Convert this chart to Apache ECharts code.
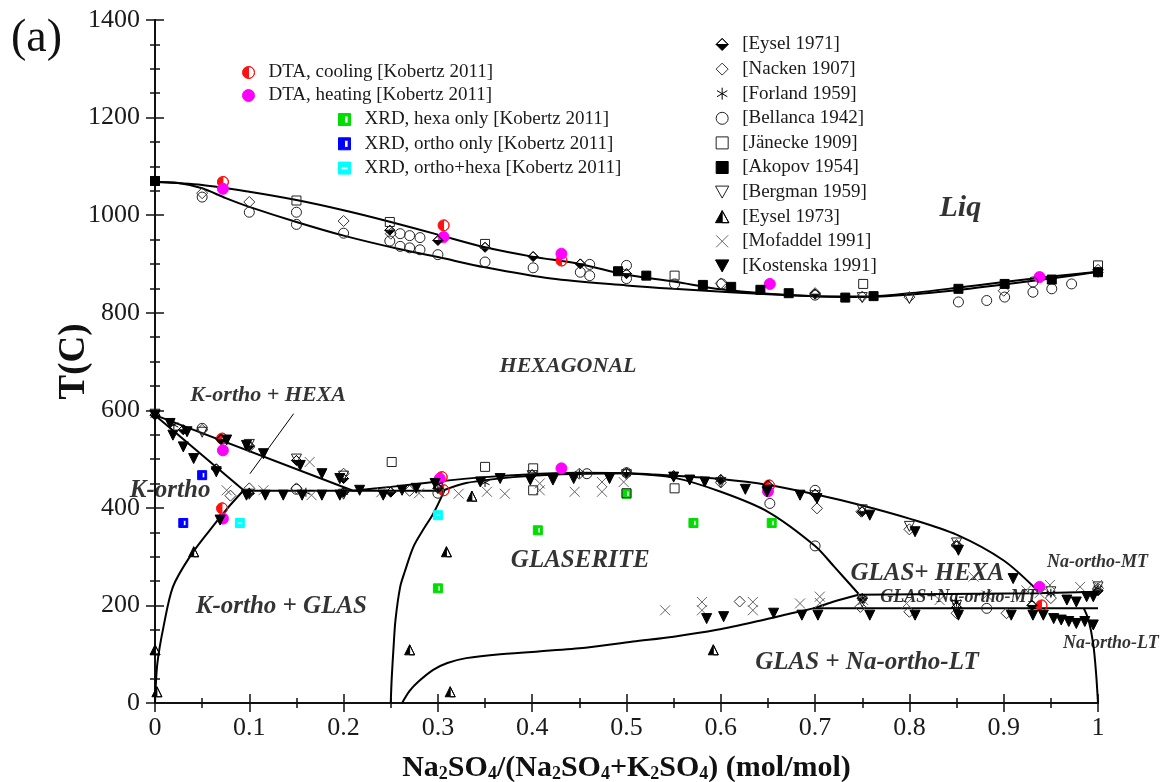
<!DOCTYPE html>
<html><head><meta charset="utf-8">
<script src="https://cdn.jsdelivr.net/npm/echarts@6/dist/echarts.min.js"></script>
<style>html,body{margin:0;padding:0;background:#fff}#c{width:1176px;height:782px}</style>
</head><body><div id="c"></div>
<script>
// ---------- axis ticks ----------
const xTicks = [0, 0.1, 0.2, 0.3, 0.4, 0.5, 0.6, 0.7, 0.8, 0.9, 1];
const yTicks = [0, 200, 400, 600, 800, 1000, 1200, 1400];

// ---------- phase boundary lines ----------
const liqUpper = [[0,1068],[0.05,1062],[0.1,1048],[0.15,1031],[0.2,1010],[0.25,986],[0.3,960],[0.35,934],[0.4,915],[0.45,900],[0.5,878],[0.55,864],[0.6,848],[0.65,839],[0.7,834],[0.75,833],[0.8,840],[0.85,851],[0.9,863],[0.95,874],[1,884]];
const liqLower = [[0,1068],[0.025,1066],[0.05,1055],[0.075,1035],[0.1,1017],[0.15,986],[0.2,958],[0.26,930],[0.3,914],[0.35,893],[0.42,870],[0.5,856],[0.55,849],[0.61,842],[0.65,838],[0.7,834],[0.75,832],[0.8,837],[0.85,846],[0.9,858],[0.95,870],[1,884]];
const kHexaUpper = [[0,590],[0.21,435]];
const kOrthoSolvus = [[0,590],[0.094,436]];
const eutectoid = [[0.094,435],[0.306,435]];
const glasTop = [[0.21,435],[0.25,443],[0.3,454],[0.35,463],[0.4,469],[0.45,472],[0.5,471],[0.55,466],[0.6,459],[0.65,447],[0.7,428],[0.75,405],[0.8,378],[0.85,345],[0.9,292],[0.935,232]];
const glasLeftUpper = [[0.306,436],[0.33,451],[0.38,463],[0.43,469],[0.5,471]];
const glasInner = [[0.5,471],[0.55,462],[0.6,433],[0.65,392],[0.7,322],[0.72,280],[0.746,224]];
const glasLeft = [[0.307,436],[0.295,388],[0.284,354],[0.274,320],[0.265,270],[0.26,238],[0.255,170],[0.253,115],[0.251,50],[0.25,0]];
const glasLower = [[0.262,0],[0.27,25],[0.28,45],[0.295,68],[0.31,82],[0.33,92],[0.366,100],[0.45,112],[0.507,126],[0.55,136],[0.596,150],[0.64,168],[0.666,180],[0.698,194],[0.72,208],[0.746,222]];
const kOrthoLow = [[0.094,436],[0.075,395],[0.058,354],[0.037,300],[0.019,238],[0.009,156],[0.0025,81],[0,0]];
const mtLine = [[0.746,222],[0.935,225],[1,228]];
const ltLine = [[0.698,194],[1,194]];
const naLtSolvus = [[0.985,194],[0.99,170],[0.995,120],[0.998,60],[1,0]];
const pointerLine = [[0.147,593],[0.1007,470]];

// ---------- experimental data ----------
const dtaCooling = [[0.072,1068],[0.306,979],[0.431,907],[0.071,542],[0.071,399],[0.304,463],[0.306,436],[0.651,446],[0.94,200]];
const dtaHeating = [[0.072,1054],[0.306,955],[0.431,921],[0.652,859],[0.938,873],[0.072,518],[0.072,378],[0.431,481],[0.302,460],[0.65,434],[0.938,238]];
const xrdHexa = [[0.3,235],[0.406,354],[0.5,429],[0.571,369],[0.654,369]];
const xrdOrtho = [[0.05,467],[0.03,369]];
const xrdOrthoHexa = [[0.09,369],[0.3,385]];
const eysel1971 = [[0,1070],[0.249,969],[0.3,948],[0.35,934],[0.401,915],[0.451,900],[0.5,880],[0.7,838],[1,883],[0,590],[0.03,560],[0.07,540],[0.1,527],[0.15,497],[0.2,460],[0.065,480],[0.1,430],[0.2,432],[0.25,432],[0.3,440],[0.4,468],[0.5,472],[0.55,466],[0.6,458],[0.65,446],[0.7,428],[0.75,392],[0.85,322],[0.75,214],[0.85,196],[0.93,200],[1,230]];
const nacken1907 = [[0.05,1045],[0.1,1027],[0.2,988],[0.25,962],[0.6,860],[0.7,840],[0.75,833],[0.8,832],[0.9,845],[1,888],[0.05,560],[0.1,525],[0.2,470],[0.08,425],[0.1,440],[0.15,440],[0.27,435],[0.45,470],[0.6,452],[0.702,399],[0.749,392],[0.8,356],[0.85,324],[0.62,208],[0.748,197],[0.8,187],[0.85,184],[0.903,184],[0.95,215],[1,235]];
const forland1959 = [[0,590],[0.02,570],[0.1,432],[0.16,432],[0.2,432],[0.3,448],[0.35,452],[0.45,470],[0.5,470],[0.6,458],[0.75,215],[0.85,207],[0.95,225],[1,235]];
const bellanca1942 = [[0.05,1037],[0.1,1006],[0.15,1006],[0.15,981],[0.2,963],[0.249,947],[0.26,962],[0.27,958],[0.281,954],[0.26,936],[0.27,933],[0.281,929],[0.3,919],[0.35,904],[0.401,892],[0.451,883],[0.461,899],[0.461,876],[0.5,897],[0.5,870],[0.551,859],[0.601,859],[0.7,836],[0.852,822],[0.882,825],[0.901,832],[0.931,842],[0.951,849],[0.972,859],[0.931,863],[0.05,563],[0.458,470],[0.5,472],[0.652,409],[0.7,436],[0.7,322],[0.882,194],[0.15,438],[0.3,430]];
const janecke1909 = [[0,1070],[0.15,1030],[0.249,986],[0.35,941],[0.551,876],[0.751,859],[1,897],[0.251,494],[0.35,484],[0.401,481],[0.401,436],[0.551,440],[0.5,430]];
const akopov1954 = [[0,1070],[0.491,885],[0.521,876],[0.581,857],[0.611,853],[0.642,847],[0.672,840],[0.732,831],[0.762,834],[0.852,849],[0.901,859],[0.951,868],[1,883]];
const bergman1959 = [[0,592],[0.05,555],[0.1,530],[0.15,500],[0.2,465],[0.1,428],[0.2,428],[0.3,440],[0.4,466],[0.5,468],[0.6,452],[0.7,425],[0.75,396],[0.8,362],[0.85,328],[0.75,207],[0.85,200],[0.95,228],[1,238],[0.75,831],[0.8,829]];
const eysel1973 = [[0,109],[0.002,23],[0.041,310],[0.27,109],[0.309,310],[0.313,23],[0.336,424],[0.592,109]];
const mofaddel1991 = [[0.076,436],[0.115,436],[0.164,494],[0.166,426],[0.24,432],[0.28,430],[0.322,429],[0.352,433],[0.371,429],[0.408,450],[0.408,436],[0.445,433],[0.474,453],[0.474,433],[0.497,453],[0.541,190],[0.58,207],[0.58,190],[0.634,207],[0.634,190],[0.684,204],[0.705,218],[0.705,205],[0.751,211],[0.797,204],[0.832,211],[0.868,259],[0.882,221],[0.924,231],[0.938,225],[0.949,242],[0.981,238],[0.999,242]];
const kostenska1991 = [[0,590],[0.016,573],[0.034,556],[0.019,549],[0.03,525],[0.041,501],[0.065,474],[0.076,539],[0.097,528],[0.115,511],[0.154,487],[0.177,470],[0.196,460],[0.097,426],[0.117,426],[0.136,426],[0.156,426],[0.177,426],[0.196,426],[0.217,436],[0.242,426],[0.262,436],[0.277,440],[0.069,375],[0.297,450],[0.345,453],[0.366,460],[0.398,457],[0.422,457],[0.444,460],[0.482,460],[0.55,463],[0.567,457],[0.583,453],[0.626,438],[0.649,433],[0.684,426],[0.702,419],[0.758,385],[0.806,351],[0.852,313],[0.91,255],[0.585,173],[0.603,177],[0.656,184],[0.686,180],[0.703,180],[0.758,180],[0.806,180],[0.852,180],[0.908,180],[0.931,180],[0.942,180],[0.953,173],[0.961,170],[0.969,167],[0.977,163],[0.986,167],[0.995,160],[0.967,211],[0.977,207],[0.988,218],[0.995,218]];

// ---------- series names ----------
const namesLeft1 = ['DTA, cooling [Kobertz 2011]', 'DTA, heating [Kobertz 2011]'];
const namesLeft2 = ['XRD, hexa only [Kobertz 2011]', 'XRD, ortho only [Kobertz 2011]', 'XRD, ortho+hexa [Kobertz 2011]'];
const namesRight = ['[Eysel 1971]', '[Nacken 1907]', '[Forland 1959]', '[Bellanca 1942]', '[Jänecke 1909]', '[Akopov 1954]', '[Bergman 1959]', '[Eysel 1973]', '[Mofaddel 1991]', '[Kostenska 1991]'];

// ---------- region labels ----------
const midLabels = ['HEXAGONAL', 'K-ortho + HEXA'];
const midLabelX = [0.438, 0.12];
const midLabelY = [690, 631];
const bigLabels = ['K-ortho', 'GLASERITE', 'K-ortho + GLAS', 'GLAS+ HEXA', 'GLAS + Na-ortho-LT'];
const bigLabelX = [0.016, 0.451, 0.134, 0.819, 0.755];
const bigLabelY = [436, 291, 197, 266, 82];
const smallLabels = ['Na-ortho-MT', 'Na-ortho-LT', 'GLAS+Na-ortho-MT'];
const smallLabelX = [0.946, 0.963, 0.769];
const smallLabelY = [289, 123, 216];
const liqLabel = ['Liq'];
const liqLabelX = [0.854];
const liqLabelY = [1014];

// ---------- rendering ----------
const F = 'Liberation Serif';
const SYM = {
  halfCircle: 'path://M5,0 A5,5 0 0 0 5,10 Z M5,0 A5,5 0 0 1 5,10 A5,5 0 0 0 5,0',
  circle: 'path://M0,5 A5,5 0 1 1 10,5 A5,5 0 1 1 0,5 Z',
  sqHoleV: 'path://M0,0 L10,0 L10,10 L0,10 Z M5,2 L5,8 L8,8 L8,2 Z',
  sqHoleH: 'path://M0,0 L10,0 L10,10 L0,10 Z M2,4 L2,6.5 L8,6.5 L8,4 Z',
  halfDiamond: 'path://M0,5 L10,5 L5,10 Z M0,5 L5,0 L10,5 L5,0 Z',
  diamond: 'path://M5,0 L10,5 L5,10 L0,5 Z',
  star: 'path://M5,0 L5,10 M0.7,2.5 L9.3,7.5 M0.7,7.5 L9.3,2.5',
  square: 'path://M0,0 L10,0 L10,10 L0,10 Z',
  downTri: 'path://M0,0 L10,0 L5,9 Z',
  halfTri: 'path://M5,0 L5,9 L0,9 Z M5,0 L10,9 L5,9 L10,9 Z',
  cross: 'path://M0,0 L10,10 M10,0 L0,10'
};

function sc(name, data, symbol, size, fill, stroke) {
  return { type: 'scatter', name, data, symbol, symbolSize: size, z: 4, silent: true,
    itemStyle: { color: fill, borderColor: stroke, borderWidth: 1, opacity: 1 } };
}
function ln(data, smooth, width) {
  return { type: 'line', data, smooth: smooth, symbol: 'none', z: 3, silent: true,
    lineStyle: { color: '#000', width: width || 2 } };
}
function pts(xs, ys, ns) { return ns.map((n, i) => ({ name: n, value: [xs[i], ys[i]] })); }
function lab(data, size, align) {
  return { type: 'scatter', data, symbolSize: 0, z: 6, silent: true,
    label: { show: true, position: 'inside', align: align || 'center', formatter: p => p.name,
      fontFamily: F, fontStyle: 'italic', fontWeight: 'bold', fontSize: size, color: '#000',
      textShadowColor: 'rgba(110,80,30,0.3)', textShadowBlur: 0, textShadowOffsetX: 1, textShadowOffsetY: 1 } };
}

const series = [
  ln(liqUpper, 0.3), ln(liqLower, 0.3), ln(kHexaUpper, 0), ln(kOrthoSolvus, 0), ln(eutectoid, 0),
  ln(glasTop, 0.3), ln(glasLeftUpper, 0.3), ln(glasInner, 0.3), ln(glasLeft, 0.3), ln(glasLower, 0.3),
  ln(kOrthoLow, 0.3), ln(mtLine, 0), ln(ltLine, 0), ln(naLtSolvus, 0.3), ln(pointerLine, 0, 1),
  sc(namesLeft1[0], dtaCooling, SYM.halfCircle, 11, '#ff1010', '#ff1010'),
  sc(namesLeft1[1], dtaHeating, SYM.circle, 11, '#ff00ff', '#ff00ff'),
  sc(namesLeft2[0], xrdHexa, SYM.sqHoleV, 9, '#00dd00', '#00dd00'),
  sc(namesLeft2[1], xrdOrtho, SYM.sqHoleV, 9, '#0000ff', '#0000ff'),
  sc(namesLeft2[2], xrdOrthoHexa, SYM.sqHoleH, 9, '#00ffff', '#00ffff'),
  sc(namesRight[0], eysel1971, SYM.halfDiamond, 10, '#000', '#000'),
  sc(namesRight[1], nacken1907, SYM.diamond, 11, 'none', '#333'),
  sc(namesRight[2], forland1959, SYM.star, 9, 'none', '#000'),
  sc(namesRight[3], bellanca1942, SYM.circle, 10, 'none', '#222'),
  sc(namesRight[4], janecke1909, SYM.square, 9, 'none', '#222'),
  sc(namesRight[5], akopov1954, SYM.square, 9, '#000', '#000'),
  sc(namesRight[6], bergman1959, SYM.downTri, 10, 'none', '#222'),
  sc(namesRight[7], eysel1973, SYM.halfTri, 10, '#000', '#000'),
  sc(namesRight[8], mofaddel1991, SYM.cross, 10, 'none', '#666'),
  sc(namesRight[9], kostenska1991, SYM.downTri, 10, '#000', '#000'),
  lab(pts(midLabelX, midLabelY, midLabels), 22),
  lab(pts(bigLabelX, bigLabelY, bigLabels), 25),
  lab(pts(smallLabelX, smallLabelY, smallLabels), 18, 'left'),
  lab(pts(liqLabelX, liqLabelY, liqLabel), 30)
];

const legText = { fontFamily: F, fontSize: 19, color: '#1a1a1a' };
function leg(data, left, top, gap) {
  return { data, left, top, orient: 'vertical', itemWidth: 30, itemHeight: 12, itemGap: gap,
    selectedMode: false, textStyle: legText, itemStyle: { borderWidth: 1 }, padding: 0 };
}

const axisCommon = {
  type: 'value', axisLine: { show: true, lineStyle: { color: '#111', width: 2 } },
  axisTick: { show: true, inside: true, length: 9, lineStyle: { color: '#111', width: 1.5 } },
  minorTick: { show: true, length: 5, lineStyle: { color: '#111', width: 1.5 } },
  splitLine: { show: false }, minorSplitLine: { show: false }
};
const tickLabel = { fontFamily: F, fontSize: 26, color: '#1a1a1a', formatter: v => String(Math.round(v * 1000) / 1000) };

const option = {
  animation: false,
  backgroundColor: '#fff',
  grid: { left: 155, right: 78, top: 20, bottom: 79, outerBoundsMode: 'none', containLabel: false },
  legend: [
    leg(namesLeft1, 242, 63, 4),
    leg(namesLeft2, 338, 110, 5.3),
    leg(namesRight, 713, 35, 5.6)
  ],
  xAxis: [
    Object.assign({}, axisCommon, { min: xTicks[0], max: xTicks[xTicks.length - 1], interval: 0.1, minorTick: Object.assign({}, axisCommon.minorTick, { splitNumber: 2 }),
      axisLabel: Object.assign({ margin: 12 }, tickLabel),
      name: '{n|Na}{s|2}{n|SO}{s|4}{n|/(Na}{s|2}{n|SO}{s|4}{n|+K}{s|2}{n|SO}{s|4}{n|) (mol/mol)}',
      nameLocation: 'middle', nameGap: 46, nameMoveOverlap: false,
      nameTextStyle: { rich: {
        n: { fontFamily: F, fontWeight: 'bold', fontSize: 30, color: '#111', lineHeight: 34, verticalAlign: 'bottom' },
        s: { fontFamily: F, fontWeight: 'bold', fontSize: 18, color: '#111', lineHeight: 19, verticalAlign: 'bottom' } } } }),
    Object.assign({}, axisCommon, { position: 'top', min: 0, max: 1, interval: 0.1, minorTick: Object.assign({}, axisCommon.minorTick, { splitNumber: 2 }), axisLabel: { show: false } })
  ],
  yAxis: [
    Object.assign({}, axisCommon, { min: yTicks[0], max: yTicks[yTicks.length - 1], interval: 200, minorTick: Object.assign({}, axisCommon.minorTick, { splitNumber: 4 }),
      axisLabel: Object.assign({ margin: 15 }, tickLabel),
      name: 'T(C)', nameLocation: 'middle', nameGap: 62, nameMoveOverlap: false,
      nameTextStyle: { fontFamily: F, fontWeight: 'bold', fontSize: 37, color: '#111' } }),
    Object.assign({}, axisCommon, { position: 'right', min: 0, max: 1400, interval: 200, minorTick: Object.assign({}, axisCommon.minorTick, { splitNumber: 4 }), axisLabel: { show: false } })
  ],
  graphic: [
    { type: 'text', left: 11, top: 16, style: { text: '(a)', fontFamily: F, fontSize: 46, fill: '#111' } }
  ],
  series: series
};

const chart = echarts.init(document.getElementById('c'), null, { renderer: 'canvas' });
chart.setOption(option);
</script>
</body></html>
